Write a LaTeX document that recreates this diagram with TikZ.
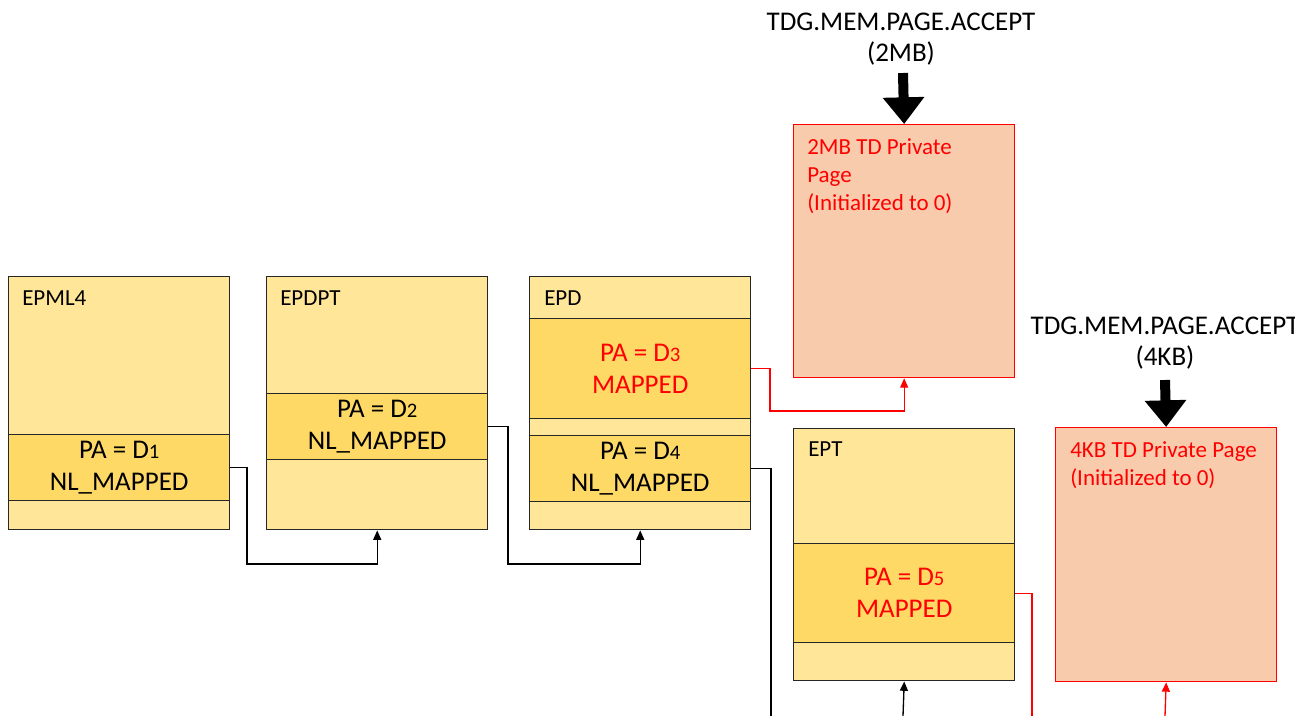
\documentclass[tikz,border=0pt]{standalone}
\usepackage{fontspec}
\setmainfont{Carlito}
\usetikzlibrary{arrows.meta}
\definecolor{ylight}{HTML}{FFE699}
\definecolor{ydark}{HTML}{FFD966}
\definecolor{pagefill}{HTML}{F8CBAD}
\definecolor{rd}{HTML}{FF0000}
\definecolor{edge}{HTML}{262626}
\newcommand{\sdig}[1]{{\fontsize{15.5}{15.5}\selectfont #1}}
\begin{document}
\begin{tikzpicture}[x=0.75pt,y=-0.75pt,
  tbl/.style={draw=edge, line width=1.1pt, fill=ylight, anchor=north west, inner sep=0pt, minimum width=221*0.75pt},
  rowbox/.style={draw=edge, line width=1.1pt, fill=ydark, anchor=north west, inner sep=0pt, minimum width=221*0.75pt, align=center, font=\fontsize{20.25}{24}\selectfont},
  pagebox/.style={draw=rd, line width=1pt, fill=pagefill, anchor=north west, inner sep=0pt, minimum width=221*0.75pt},
  lbl/.style={anchor=west, inner sep=0pt, font=\fontsize{17.25}{21}\selectfont},
  redtxt/.style={anchor=north west, inner sep=0pt, align=left, text=rd, font=\fontsize{17.25}{21}\selectfont},
  toptxt/.style={align=center, inner sep=0pt, font=\fontsize{20.25}{23.25}\selectfont},
  conn/.style={draw=black, line width=1pt, -{Triangle[width=6pt,length=7pt]}},
  plainconn/.style={draw=black, line width=1pt},
  redconn/.style={draw=rd, line width=1pt, -{Triangle[width=6pt,length=7pt]}},
  redplain/.style={draw=rd, line width=1pt},
  bigarrow/.style={draw=black, line width=7.5pt, -{Triangle[width=30pt,length=20pt]}}
]
\useasboundingbox (0,0) rectangle (1307,715);
\clip (0,0) rectangle (1294,715);

% tables
\node[tbl, minimum height=253*0.75pt] (t1) at (8,276) {};
\node[tbl, minimum height=253*0.75pt] (t2) at (266,276) {};
\node[tbl, minimum height=253*0.75pt] (t3) at (529,276) {};
\node[tbl, minimum height=252*0.75pt] (t4) at (793,428) {};

% pages
\node[pagebox, minimum height=253*0.75pt] (p2) at (793,124) {};
\node[pagebox, minimum height=254*0.75pt] (p4) at (1055,427) {};

% rows
\node[rowbox, minimum height=66*0.75pt] (r1) at (8,434) {PA = D\sdig{1}\\NL\_MAPPED};
\node[rowbox, minimum height=66*0.75pt] (r2) at (266,393) {PA = D\sdig{2}\\NL\_MAPPED};
\node[rowbox, minimum height=100*0.75pt, text=rd] (r3) at (529,318) {PA = D\sdig{3}\\MAPPED};
\node[rowbox, minimum height=66*0.75pt] (r4) at (529,435) {PA = D\sdig{4}\\NL\_MAPPED};
\node[rowbox, minimum height=99*0.75pt, text=rd] (r5) at (793,543) {PA = D\sdig{5}\\MAPPED};

% labels
\node[lbl] (l1) at (22,298) {EPML4};
\node[lbl] (l2) at (280,298) {EPDPT};
\node[lbl] (l3) at (544,298) {EPD};
\node[lbl] (l4) at (808,449) {EPT};
\node[redtxt] (pt2) at (807,138) {2MB TD Private\\Page\\(Initialized to 0)};
\node[redtxt] (pt4) at (1070,441) {4KB TD Private Page\\(Initialized to 0)};

% top texts
\node[toptxt] (acc2) at (901,39) {TDG.MEM.PAGE.ACCEPT\\(2MB)};
\node[toptxt] (acc4) at (1165,343) {TDG.MEM.PAGE.ACCEPT\\(4KB)};

% big arrows
\coordinate (a2) at (903,73);
\coordinate (a4) at (1165,380);
\draw[bigarrow] (a2) -- (p2.north);
\draw[bigarrow] (a4) -- (p4.north);

% connectors
\coordinate (e4) at (771,716);
\coordinate (e5) at (903,716);
\coordinate (e6) at (1032,716);
\coordinate (e7) at (1165,716);
\draw[conn] (r1.east) -| (247,564) -| (t2.south);
\draw[conn] (r2.east) -| (508,564) -| (t3.south);
\draw[redconn] (r3.east) -| (770,411) -| (p2.south);
\draw[plainconn] (r4.east) -| (e4);
\draw[conn] (e5) -- (t4.south);
\draw[redplain] (r5.east) -| (e6);
\draw[redconn] (e7) -- (p4.south);
\end{tikzpicture}
\end{document}
